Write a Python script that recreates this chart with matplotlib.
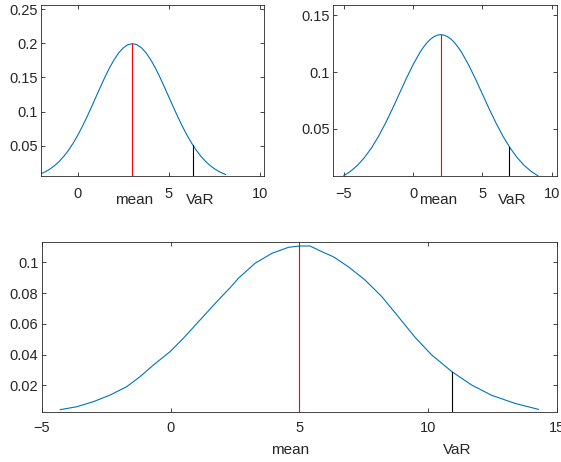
import matplotlib
matplotlib.use("Agg")
import matplotlib.pyplot as plt
import matplotlib.transforms as mtransforms

## DATA
# first distribution (mean 3)
x1 = [-2.0, -1.75, -1.5, -1.25, -1.0, -0.75, -0.5, -0.25, 0.0, 0.25, 0.5,
      0.75, 1.0, 1.25, 1.5, 1.75, 2.0, 2.25, 2.5, 2.75, 3.0, 3.25, 3.5, 3.75,
      4.0, 4.25, 4.5, 4.75, 5.0, 5.25, 5.5, 5.75, 6.0, 6.25, 6.5, 6.75, 7.0,
      7.25, 7.5, 7.75, 8.0, 8.1]
y1 = [0.0088, 0.0119, 0.0159, 0.0209, 0.0270, 0.0344, 0.0431, 0.0533, 0.0648,
      0.0775, 0.0913, 0.1059, 0.1210, 0.1360, 0.1506, 0.1641, 0.1760, 0.1859,
      0.1933, 0.1979, 0.1995, 0.1979, 0.1933, 0.1859, 0.1760, 0.1641, 0.1506,
      0.1360, 0.1210, 0.1059, 0.0913, 0.0775, 0.0648, 0.0533, 0.0431, 0.0344,
      0.0270, 0.0209, 0.0159, 0.0119, 0.0088, 0.0077]
mean1, mean1_pdf = 3.0, 0.1995
var1, var1_pdf = 6.29, 0.0516

# second distribution (mean 2)
x2 = [-5.0, -4.5, -4.0, -3.5, -3.0, -2.5, -2.0, -1.5, -1.0, -0.5, 0.0, 0.5,
      0.75, 1.0, 1.25, 1.5, 1.75, 2.0, 2.25, 2.5, 2.75, 3.0, 3.25, 3.5, 4.0,
      4.5, 5.0, 5.5, 6.0, 6.5, 7.0, 7.5, 8.0, 8.5, 9.0]
y2 = [0.0087, 0.0127, 0.0180, 0.0248, 0.0332, 0.0432, 0.0547, 0.0673, 0.0807,
      0.0940, 0.1065, 0.1174, 0.1219, 0.1258, 0.1289, 0.1311, 0.1325, 0.1330,
      0.1325, 0.1311, 0.1289, 0.1258, 0.1219, 0.1174, 0.1065, 0.0940, 0.0807,
      0.0673, 0.0547, 0.0432, 0.0332, 0.0248, 0.0180, 0.0127, 0.0087]
mean2, mean2_pdf = 2.0, 0.1330
var2, var2_pdf = 6.93, 0.0344

# combined (empirical) distribution
x3 = [-4.29, -3.65, -3.0, -2.35, -1.71, -1.19, -0.67, -0.02, 0.49, 1.14, 1.79,
      2.31, 2.63, 3.28, 3.93, 4.57, 5.0, 5.41, 5.87, 6.32, 6.90, 7.55, 8.20,
      8.84, 9.49, 10.14, 10.92, 11.69, 12.47, 13.37, 14.28]
y3 = [0.0043, 0.0062, 0.0095, 0.0138, 0.0192, 0.0257, 0.0333, 0.0420, 0.0506,
      0.0625, 0.0744, 0.0835, 0.0896, 0.0994, 0.1058, 0.1097, 0.1106, 0.1106,
      0.1069, 0.1036, 0.0971, 0.0885, 0.0777, 0.0647, 0.0513, 0.0398, 0.0290,
      0.0203, 0.0136, 0.0084, 0.0045]
mean3, mean3_pdf = 5.0, 0.1106
var3, var3_pdf = 10.94, 0.0290

BLUE = "#0072BD"
AXCOL = "#262626"

plt.rcParams["font.family"] = ["Liberation Sans", "DejaVu Sans"]

fig = plt.figure(figsize=(5.61, 4.62), dpi=100)


def style_axes(ax, xpad):
    for s in ax.spines.values():
        s.set_color(AXCOL)
        s.set_linewidth(0.6)
    ax.tick_params(direction="in", length=3, width=0.6, color=AXCOL,
                   labelcolor=AXCOL, top=True, right=True, labelsize=10.5)
    ax.tick_params(axis="x", pad=xpad)
    ax.tick_params(axis="y", pad=2.5)


def draw_panel(ax, x, y, m, m_pdf, v, v_pdf, mean_lbl_x, var_lbl_x, lbl_y, xpad):
    ax.plot(x, y, color=BLUE, lw=0.8)
    ax.plot([m, m], [0, m_pdf], color="red", lw=0.8)
    ax.plot([v, v], [0, v_pdf], color="black", lw=0.8)
    trans = mtransforms.blended_transform_factory(ax.transData, ax.transAxes)
    ax.text(mean_lbl_x, lbl_y, "mean", transform=trans, ha="center", va="center",
            fontsize=11, color=AXCOL)
    ax.text(var_lbl_x, lbl_y, "VaR", transform=trans, ha="center", va="center",
            fontsize=11, color=AXCOL)
    style_axes(ax, xpad)


## Top left
ax1 = fig.add_axes([0.0731, 0.619, 0.3975, 0.370])
draw_panel(ax1, x1, y1, mean1, mean1_pdf, var1, var1_pdf, 3.07, 6.7, -0.14, 8)
ax1.set_xlim(-2.0, 10.2)
ax1.set_ylim(0.0055, 0.256)
ax1.set_xticks([0, 5, 10])
ax1.set_yticks([0.05, 0.1, 0.15, 0.2, 0.25])
ax1.set_yticklabels(["0.05", "0.1", "0.15", "0.2", "0.25"])

## Top right
ax2 = fig.add_axes([0.5936, 0.619, 0.3993, 0.370])
draw_panel(ax2, x2, y2, mean2, mean2_pdf, var2, var2_pdf, 1.82, 7.15, -0.14, 8)
ax2.set_xlim(-5.77, 10.38)
ax2.set_ylim(0.0085, 0.159)
ax2.set_xticks([-5, 0, 5, 10])
ax2.set_yticks([0.05, 0.1, 0.15])
ax2.set_yticklabels(["0.05", "0.1", "0.15"])

## Bottom
ax3 = fig.add_axes([0.0747, 0.1076, 0.918, 0.368])
draw_panel(ax3, x3, y3, mean3, mean3_pdf, var3, var3_pdf, 4.65, 11.11, -0.22, 6)
ax3.set_xlim(-5, 15)
ax3.set_ylim(0.0026, 0.113)
ax3.set_xticks([-5, 0, 5, 10, 15])
ax3.set_yticks([0.02, 0.04, 0.06, 0.08, 0.1])
ax3.set_yticklabels(["0.02", "0.04", "0.06", "0.08", "0.1"])

fig.savefig("out.png", dpi=100)
